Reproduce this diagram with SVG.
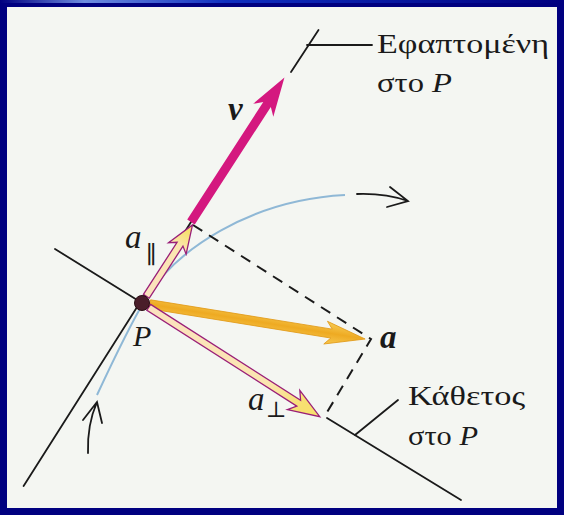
<svg xmlns="http://www.w3.org/2000/svg" width="564" height="515" viewBox="0 0 564 515">
<defs>
<style>
.ln{stroke:#1a1a1a;stroke-width:1.8;fill:none;stroke-linecap:round}
.dash{stroke:#1a1a1a;stroke-width:2;fill:none;stroke-dasharray:11 8}
.lbl{font-family:"Liberation Serif","Times New Roman",serif;font-size:27px;fill:#1a1a1a}
.it{font-family:"Liberation Serif","Times New Roman",serif;font-style:italic;fill:#1a1a1a}
.sub{font-family:"DejaVu Serif","Liberation Serif",serif;font-style:normal;fill:#1a1a1a}
.hollow{fill:url(#pale);stroke:#9a1f78;stroke-width:1.3;stroke-linejoin:miter}
</style>
<linearGradient id="topbar" x1="0" y1="0" x2="1" y2="0">
<stop offset="0" stop-color="#000080"/>
<stop offset="0.15" stop-color="#6f8ee0"/>
<stop offset="0.4" stop-color="#1030c0"/>
<stop offset="1" stop-color="#000080"/>
</linearGradient>
<linearGradient id="pale" x1="0" y1="0" x2="1" y2="0">
<stop offset="0" stop-color="#fbe2bf"/>
<stop offset="0.7" stop-color="#fbe6b0"/>
<stop offset="0.9" stop-color="#f7e070"/>
<stop offset="1" stop-color="#f7e070"/>
</linearGradient>
<linearGradient id="orange" x1="0" y1="0" x2="0" y2="1">
<stop offset="0" stop-color="#f7cc55"/>
<stop offset="0.5" stop-color="#eeaa22"/>
<stop offset="1" stop-color="#f7c850"/>
</linearGradient>
</defs>
<rect x="0" y="0" width="564" height="515" fill="#000080"/>
<rect x="0" y="0" width="564" height="3" fill="url(#topbar)"/>
<rect x="7" y="7" width="550" height="501" fill="#f4f6f2"/>

<g id="connectors">
<path id="path-curve" d="M97,395 C118,350 130,325 145,300 C175,250 250,200 345,195" fill="none" stroke="#8fb8d6" stroke-width="2"/>
<line id="tangent-lower" class="ln" x1="23.6" y1="486" x2="191" y2="222"/>
<line id="tangent-upper" class="ln" x1="291" y1="72" x2="318.5" y2="30"/>
<line id="normal-left" class="ln" x1="55" y1="249" x2="142" y2="303"/>
<line id="normal-right" class="ln" x1="327" y1="418" x2="461" y2="500"/>
<line id="leader-tangent" class="ln" x1="307" y1="45" x2="372" y2="45"/>
<line id="leader-normal" class="ln" x1="355" y1="435" x2="398" y2="400"/>
<path id="dashed" class="dash" d="M193,225 L371,339 L326,414"/>
<path id="motion-arrow-top" class="ln" d="M357,194 Q385,193 408,201 M390,187 L408,201 L387,207" stroke-width="2"/>
<path id="motion-arrow-bottom" class="ln" d="M88,453 Q87,425 97,402 M83,420 L97,402 L102,423" stroke-width="2"/>
</g>

<g id="vector-a" transform="translate(142,303) rotate(9.17)">
<path d="M8,-4.5 L192,-4.5 L186,-11.5 L226,0 L186,11.5 L192,4.5 L8,4.5 Z" fill="url(#orange)" stroke="#e29a18" stroke-width="0.8"/>
</g>
<g id="vector-a-par" transform="translate(142,303) rotate(-57.1)">
<path class="hollow" d="M8,-3.5 L70,-3.5 L65,-10.5 L93,0 L65,10.5 L70,3.5 L8,3.5 Z"/>
</g>
<g id="vector-a-perp" transform="translate(142,303) rotate(32.6)">
<path class="hollow" d="M8,-3.5 L186,-3.5 L180,-11.5 L211,0 L180,11.5 L186,3.5 L8,3.5 Z"/>
</g>
<g id="vector-v" transform="translate(191,222) rotate(-57.1)">
<path d="M0,-4.5 L140,-4.5 L133,-12 L172,0 L133,12 L140,4.5 L0,4.5 Z" fill="#d4187f"/>
</g>
<g id="point-P">
<circle cx="142" cy="303" r="7.5" fill="#4a1e2a" stroke="#2a0e14" stroke-width="1"/>
</g>

<g id="labels">
<text class="lbl" x="377" y="53" textLength="172" lengthAdjust="spacingAndGlyphs">Εφαπτομένη</text>
<text class="lbl" x="377" y="92" textLength="75" lengthAdjust="spacingAndGlyphs">στο <tspan font-style="italic">P</tspan></text>
<text class="lbl" x="408" y="405" textLength="117" lengthAdjust="spacingAndGlyphs">Κάθετος</text>
<text class="lbl" x="408" y="445" textLength="70" lengthAdjust="spacingAndGlyphs">στο <tspan font-style="italic">P</tspan></text>
<text class="it" x="133" y="346" font-size="30">P</text>
<text class="it" x="228" y="120" font-size="33" font-weight="bold">v</text>
<text class="it" x="380" y="348" font-size="33" font-weight="bold">a</text>
<text class="it" x="125" y="248" font-size="33">a</text>
<text class="sub" x="146" y="263" font-size="24">∥</text>
<text class="it" x="248" y="410" font-size="33">a</text>
<text class="sub" x="266" y="417" font-size="22">⊥</text>
</g>
</svg>
